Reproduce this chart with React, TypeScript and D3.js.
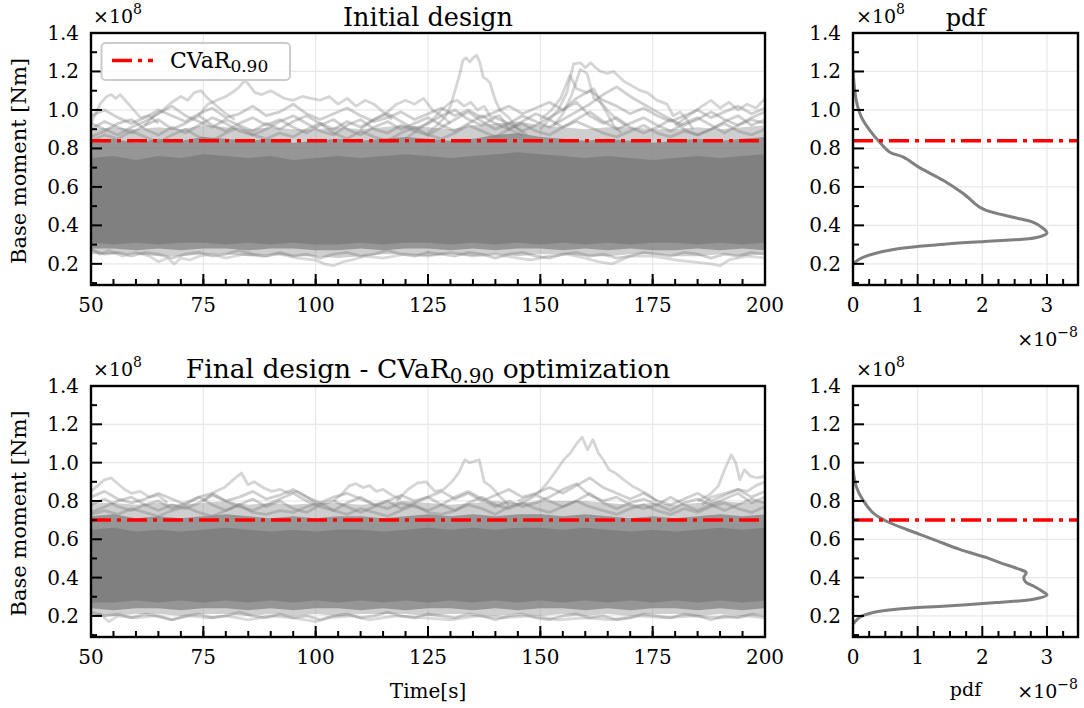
import React from "react";
import * as d3 from "d3";

// ---------- data (values in units of 1e8 Nm, time in s, pdf in 1e-8) ----------
const bandTime = [50, 55, 60, 65, 70, 75, 80, 85, 90, 95, 100, 105, 110, 115, 120, 125, 130, 135, 140, 145, 150, 155, 160, 165, 170, 175, 180, 185, 190, 195, 200];

// Initial design: envelopes of the dense bundle of trajectories
const initOuterHi = [0.9, 0.91, 0.9, 0.91, 0.9, 0.92, 0.91, 0.9, 0.91, 0.9, 0.9, 0.91, 0.9, 0.91, 0.92, 0.91, 0.9, 0.92, 0.93, 0.94, 0.92, 0.91, 0.9, 0.91, 0.91, 0.9, 0.9, 0.91, 0.9, 0.91, 0.92];
const initFringeHi = [0.84, 0.85, 0.83, 0.85, 0.84, 0.86, 0.85, 0.84, 0.85, 0.83, 0.84, 0.85, 0.84, 0.85, 0.86, 0.85, 0.84, 0.85, 0.87, 0.88, 0.86, 0.85, 0.84, 0.85, 0.84, 0.83, 0.84, 0.85, 0.84, 0.85, 0.86];
const initCoreHi = [0.75, 0.76, 0.74, 0.76, 0.75, 0.77, 0.76, 0.75, 0.76, 0.74, 0.75, 0.76, 0.75, 0.76, 0.77, 0.76, 0.75, 0.76, 0.77, 0.78, 0.77, 0.76, 0.75, 0.76, 0.75, 0.74, 0.75, 0.76, 0.75, 0.76, 0.77];
const initCoreLo = [0.31, 0.3, 0.31, 0.3, 0.31, 0.31, 0.3, 0.31, 0.3, 0.31, 0.3, 0.3, 0.31, 0.3, 0.31, 0.31, 0.3, 0.31, 0.3, 0.31, 0.3, 0.31, 0.3, 0.31, 0.3, 0.31, 0.31, 0.3, 0.31, 0.3, 0.31];
const initFringeLo = [0.28, 0.28, 0.27, 0.28, 0.27, 0.28, 0.28, 0.27, 0.28, 0.28, 0.27, 0.27, 0.28, 0.27, 0.28, 0.28, 0.27, 0.28, 0.27, 0.28, 0.28, 0.27, 0.28, 0.27, 0.28, 0.27, 0.27, 0.28, 0.27, 0.28, 0.27];
const initOuterLo = [0.25, 0.25, 0.25, 0.24, 0.24, 0.25, 0.25, 0.24, 0.25, 0.24, 0.24, 0.23, 0.24, 0.25, 0.25, 0.24, 0.25, 0.24, 0.25, 0.24, 0.25, 0.25, 0.24, 0.24, 0.25, 0.25, 0.24, 0.24, 0.25, 0.24, 0.25];

// Final design envelopes
const finOuterHi = [0.79, 0.79, 0.78, 0.79, 0.78, 0.79, 0.8, 0.78, 0.79, 0.78, 0.79, 0.79, 0.78, 0.79, 0.8, 0.79, 0.78, 0.79, 0.8, 0.79, 0.8, 0.8, 0.8, 0.79, 0.78, 0.79, 0.78, 0.79, 0.8, 0.79, 0.8];
const finFringeHi = [0.72, 0.73, 0.71, 0.72, 0.71, 0.72, 0.73, 0.72, 0.71, 0.72, 0.71, 0.72, 0.72, 0.71, 0.72, 0.73, 0.72, 0.73, 0.72, 0.73, 0.73, 0.72, 0.73, 0.72, 0.71, 0.72, 0.71, 0.72, 0.73, 0.72, 0.73];
const finCoreHi = [0.65, 0.66, 0.64, 0.65, 0.64, 0.65, 0.66, 0.65, 0.64, 0.65, 0.64, 0.65, 0.65, 0.64, 0.65, 0.66, 0.65, 0.66, 0.65, 0.66, 0.66, 0.65, 0.66, 0.65, 0.64, 0.65, 0.64, 0.65, 0.66, 0.65, 0.66];
const finCoreLo = [0.27, 0.27, 0.28, 0.27, 0.28, 0.27, 0.28, 0.27, 0.28, 0.27, 0.28, 0.27, 0.28, 0.27, 0.28, 0.27, 0.28, 0.27, 0.28, 0.27, 0.28, 0.27, 0.28, 0.27, 0.28, 0.27, 0.28, 0.27, 0.28, 0.27, 0.28];
const finFringeLo = [0.24, 0.23, 0.24, 0.24, 0.23, 0.24, 0.24, 0.23, 0.24, 0.23, 0.24, 0.24, 0.23, 0.24, 0.23, 0.24, 0.24, 0.23, 0.24, 0.23, 0.24, 0.24, 0.23, 0.24, 0.23, 0.24, 0.24, 0.23, 0.24, 0.23, 0.24];
const finOuterLo = [0.21, 0.2, 0.21, 0.21, 0.2, 0.21, 0.21, 0.2, 0.21, 0.2, 0.21, 0.2, 0.21, 0.21, 0.21, 0.2, 0.21, 0.21, 0.2, 0.21, 0.2, 0.21, 0.2, 0.21, 0.2, 0.21, 0.21, 0.2, 0.21, 0.2, 0.21];

// Time grid for the fringe trajectories (every 3 s)
const fringeTime = [50, 53, 56, 59, 62, 65, 68, 71, 74, 77, 80, 83, 86, 89, 92, 95, 98, 101, 104, 107, 110, 113, 116, 119, 122, 125, 128, 131, 134, 137, 140, 143, 146, 149, 152, 155, 158, 161, 164, 167, 170, 173, 176, 179, 182, 185, 188, 191, 194, 197, 200];
// Initial design fringe trajectories (upper side)
const initFringe1 = [0.9, 0.94, 0.91, 0.88, 0.92, 0.95, 0.9, 0.93, 0.97, 0.92, 0.89, 0.93, 0.96, 0.92, 0.95, 0.91, 0.88, 0.92, 0.95, 0.9, 0.87, 0.91, 0.94, 0.9, 0.93, 0.96, 0.92, 0.89, 0.93, 0.97, 0.93, 0.9, 0.94, 0.98, 0.95, 0.91, 0.95, 0.99, 0.94, 0.9, 0.93, 0.96, 0.92, 0.89, 0.93, 0.96, 0.92, 0.88, 0.92, 0.95, 0.93];
const initFringe2 = [0.86, 0.89, 0.93, 0.95, 0.9, 0.87, 0.91, 0.88, 0.92, 0.96, 0.93, 0.89, 0.87, 0.9, 0.94, 0.97, 0.93, 0.89, 0.87, 0.92, 0.95, 0.9, 0.88, 0.92, 0.89, 0.87, 0.91, 0.95, 0.99, 0.94, 0.9, 0.93, 0.89, 0.92, 0.96, 1.0, 1.04, 0.97, 0.93, 0.96, 0.91, 0.88, 0.91, 0.95, 0.9, 0.87, 0.9, 0.94, 0.97, 0.92, 0.95];
const initFringe3 = [0.97, 1.0, 0.96, 0.93, 0.96, 1.0, 0.97, 0.94, 0.98, 1.01, 0.96, 0.98, 1.02, 0.97, 0.99, 1.03, 0.98, 0.95, 0.98, 1.01, 0.97, 0.94, 0.96, 0.99, 0.95, 0.98, 1.01, 0.97, 1.0, 0.96, 0.99, 1.02, 0.98, 1.01, 1.04, 1.0, 1.06, 1.1, 1.05, 1.02, 0.98, 1.01, 0.97, 0.94, 0.97, 1.0, 0.96, 0.99, 1.02, 0.98, 1.01];
const initFringe4 = [0.84, 0.87, 0.85, 0.89, 0.86, 0.83, 0.87, 0.9, 0.86, 0.84, 0.88, 0.91, 0.87, 0.85, 0.88, 0.86, 0.9, 0.93, 0.88, 0.85, 0.89, 0.86, 0.84, 0.88, 0.91, 0.87, 0.85, 0.88, 0.92, 0.89, 0.86, 0.9, 0.93, 0.89, 0.87, 0.91, 0.94, 0.91, 0.88, 0.86, 0.89, 0.92, 0.88, 0.86, 0.89, 0.87, 0.9, 0.93, 0.89, 0.87, 0.9];
const initFringe5 = [0.93, 0.9, 0.87, 0.91, 0.94, 0.98, 1.02, 0.97, 0.94, 0.91, 0.95, 0.92, 0.89, 0.93, 0.9, 0.94, 0.97, 0.93, 0.9, 0.94, 0.91, 0.95, 0.98, 0.94, 0.9, 0.93, 0.97, 1.0, 0.95, 0.92, 0.96, 0.93, 0.97, 0.94, 0.91, 0.95, 0.99, 1.03, 1.08, 1.12, 1.07, 1.03, 0.99, 0.95, 0.92, 0.95, 0.99, 0.95, 0.92, 0.96, 0.99];
// Initial design fringe trajectories (lower side)
const initFringeLow1 = [0.27, 0.25, 0.26, 0.24, 0.26, 0.25, 0.23, 0.25, 0.26, 0.24, 0.25, 0.27, 0.25, 0.24, 0.26, 0.24, 0.25, 0.23, 0.25, 0.26, 0.24, 0.25, 0.27, 0.25, 0.24, 0.26, 0.25, 0.24, 0.26, 0.25, 0.23, 0.25, 0.26, 0.24, 0.23, 0.25, 0.26, 0.24, 0.25, 0.23, 0.24, 0.26, 0.25, 0.24, 0.26, 0.25, 0.23, 0.25, 0.24, 0.26, 0.25];

// Final design fringe trajectories (upper side)
const finFringe1 = [0.78, 0.81, 0.77, 0.75, 0.78, 0.8, 0.76, 0.79, 0.82, 0.78, 0.75, 0.78, 0.81, 0.77, 0.8, 0.76, 0.74, 0.78, 0.8, 0.77, 0.74, 0.77, 0.8, 0.76, 0.79, 0.82, 0.78, 0.75, 0.79, 0.82, 0.78, 0.76, 0.79, 0.83, 0.8, 0.77, 0.8, 0.84, 0.79, 0.76, 0.79, 0.81, 0.78, 0.75, 0.79, 0.81, 0.78, 0.75, 0.78, 0.81, 0.79];
const finFringe2 = [0.74, 0.77, 0.8, 0.82, 0.78, 0.75, 0.78, 0.76, 0.79, 0.83, 0.8, 0.77, 0.75, 0.78, 0.81, 0.84, 0.8, 0.77, 0.75, 0.79, 0.82, 0.78, 0.76, 0.79, 0.77, 0.75, 0.78, 0.82, 0.85, 0.81, 0.77, 0.8, 0.77, 0.79, 0.82, 0.86, 0.89, 0.83, 0.8, 0.82, 0.78, 0.76, 0.78, 0.82, 0.78, 0.75, 0.78, 0.81, 0.84, 0.79, 0.82];
const finFringe3 = [0.82, 0.85, 0.81, 0.79, 0.81, 0.84, 0.81, 0.78, 0.82, 0.84, 0.8, 0.82, 0.85, 0.81, 0.83, 0.86, 0.82, 0.79, 0.82, 0.84, 0.81, 0.78, 0.8, 0.83, 0.8, 0.82, 0.85, 0.81, 0.84, 0.8, 0.83, 0.86, 0.82, 0.84, 0.87, 0.84, 0.88, 0.92, 0.87, 0.84, 0.81, 0.84, 0.8, 0.78, 0.81, 0.84, 0.8, 0.83, 0.86, 0.82, 0.85];
const finFringe4 = [0.73, 0.75, 0.73, 0.76, 0.74, 0.72, 0.75, 0.77, 0.74, 0.72, 0.75, 0.78, 0.74, 0.73, 0.75, 0.74, 0.77, 0.79, 0.75, 0.73, 0.76, 0.74, 0.72, 0.75, 0.78, 0.74, 0.73, 0.75, 0.78, 0.76, 0.73, 0.77, 0.79, 0.76, 0.74, 0.77, 0.8, 0.77, 0.75, 0.73, 0.76, 0.78, 0.75, 0.73, 0.76, 0.74, 0.77, 0.79, 0.76, 0.74, 0.77];
const finFringeLow1 = [0.22, 0.2, 0.21, 0.19, 0.21, 0.2, 0.18, 0.2, 0.21, 0.19, 0.2, 0.22, 0.2, 0.19, 0.21, 0.19, 0.2, 0.18, 0.2, 0.21, 0.19, 0.2, 0.22, 0.2, 0.19, 0.21, 0.2, 0.19, 0.21, 0.2, 0.18, 0.2, 0.21, 0.19, 0.18, 0.2, 0.21, 0.19, 0.2, 0.18, 0.19, 0.21, 0.2, 0.19, 0.21, 0.2, 0.18, 0.2, 0.19, 0.21, 0.2];

// Individually visible outlier trajectories, initial design: [time, value]
const initTraceA: [number, number][] = [[125, 0.88], [127, 0.92], [129, 0.97], [130, 1.02], [131, 1.1], [132, 1.18], [132.8, 1.26], [133.5, 1.27], [134.3, 1.25], [135, 1.27], [135.8, 1.285], [136.5, 1.25], [137.3, 1.17], [138, 1.16], [138.8, 1.14], [140, 1.05], [141, 1.0], [143, 0.96], [145, 0.9], [147, 0.87]];
const initTraceB: [number, number][] = [[120, 0.85], [123, 0.9], [126, 0.95], [128, 1.0], [130, 1.04], [131.5, 1.05], [133, 1.02], [134.5, 1.04], [136, 1.0], [137.5, 1.02], [139, 0.96], [141, 0.97], [143, 0.9], [146, 0.87]];
const initTraceC: [number, number][] = [[150, 0.9], [152, 0.95], [154, 1.0], [155.9, 1.09], [157.4, 1.24], [158.9, 1.245], [160, 1.22], [161.2, 1.245], [162.3, 1.22], [163.4, 1.2], [164.9, 1.19], [166.3, 1.2], [168.5, 1.15], [170.8, 1.12], [172.3, 1.1], [173.8, 1.09], [176, 1.05], [178.2, 1.03], [179.6, 0.97], [181.1, 0.99], [182.6, 0.95], [184, 0.9]];
const initTraceD: [number, number][] = [[153, 0.92], [155, 0.98], [157, 1.08], [158.9, 1.21], [160.4, 1.19], [161.9, 1.06], [163.4, 1.04], [164.9, 0.98], [166.3, 0.92], [168, 0.88]];
const initTraceE: [number, number][] = [[150, 0.95], [152.5, 1.0], [154.5, 1.06], [156.6, 1.18], [158.1, 1.11], [160.4, 1.09], [161.9, 1.11], [163.4, 1.04], [164.9, 1.0], [167, 0.95], [169, 0.92]];
const initTraceF: [number, number][] = [[50, 0.93], [51, 0.98], [52, 1.03], [53.5, 1.07], [54.5, 1.08], [55.5, 1.06], [56.5, 1.08], [58, 1.04], [59.5, 1.0], [61, 0.96], [63, 0.97], [65, 0.93]];
const initTraceG: [number, number][] = [[62, 0.92], [64, 0.97], [66, 1.0], [68, 1.04], [70, 1.07], [71.5, 1.05], [73, 1.09], [74.5, 1.1], [76, 1.06], [78, 1.02], [80, 0.98], [82, 0.95]];
const initTraceH: [number, number][] = [[74, 0.97], [76, 1.03], [78, 1.05], [80, 1.07], [82, 1.1], [83, 1.12], [84.3, 1.155], [85.5, 1.12], [86.5, 1.09], [88, 1.08], [90, 1.1], [91.5, 1.08], [93, 1.06], [95, 1.05], [97, 1.07], [99, 1.06], [101, 1.05], [103, 1.07], [105, 1.03], [107, 1.06], [109, 1.02], [111, 1.05], [113, 1.03], [115, 0.99], [117, 0.95]];
const initTraceI: [number, number][] = [[180, 0.92], [183, 0.97], [186, 1.02], [188, 1.05], [190, 1.01], [192, 1.04], [194, 1.0], [196, 1.03], [198, 1.01], [200, 1.06]];
const initTraceJ: [number, number][] = [[110, 0.9], [113, 0.95], [116, 0.99], [118, 1.03], [120, 1.05], [122, 1.03], [124, 1.06], [126, 1.0], [128, 0.97], [130, 0.93]];
const initTraceL: [number, number][] = [[50, 0.28], [52, 0.25], [54, 0.27], [57, 0.24], [60, 0.26], [63, 0.24], [65, 0.21], [67, 0.23], [68.5, 0.2], [70, 0.23], [72, 0.22], [74, 0.24], [77, 0.25], [80, 0.23], [84, 0.25], [88, 0.24], [92, 0.25], [96, 0.23], [100, 0.22], [102, 0.2], [104, 0.19], [106, 0.21], [108, 0.22], [111, 0.24], [115, 0.23], [120, 0.25], [125, 0.24], [130, 0.26], [135, 0.24], [140, 0.25], [145, 0.23], [148, 0.22], [152, 0.24], [156, 0.25], [160, 0.23], [163, 0.21], [166, 0.2], [170, 0.24], [175, 0.24], [180, 0.22], [184, 0.21], [188, 0.2], [190, 0.19], [192, 0.22], [196, 0.24], [200, 0.23]];

// Final design outlier trajectories
const finTraceM: [number, number][] = [[145, 0.8], [149.5, 0.84], [151.4, 0.89], [153.3, 0.95], [155.2, 1.015], [156.7, 1.05], [158.1, 1.1], [159.3, 1.133], [160.5, 1.067], [161.7, 1.12], [162.9, 1.05], [164, 1.015], [165.3, 0.963], [166.7, 0.946], [168.6, 0.91], [170.5, 0.877], [173.4, 0.842], [176, 0.8]];
const finTraceN: [number, number][] = [[118, 0.8], [120.5, 0.86], [122.7, 0.894], [124.6, 0.9], [126.5, 0.85], [128.4, 0.859], [130.3, 0.9], [131.8, 0.946], [133.2, 1.015], [134.2, 1.0], [135.3, 1.007], [136.4, 1.015], [137.5, 0.9], [139, 0.876], [140.9, 0.825], [143, 0.78]];
const finTraceO: [number, number][] = [[185, 0.8], [187.5, 0.83], [189.6, 0.877], [191, 0.963], [192.5, 1.041], [193.5, 0.998], [194.4, 0.911], [195.4, 0.963], [196.8, 0.929], [198.3, 0.92], [200, 0.929]];
const finTraceO2: [number, number][] = [[186, 0.78], [188, 0.82], [191, 0.84], [194, 0.86], [196, 0.85], [198, 0.88], [200, 0.9]];
const finTraceP: [number, number][] = [[50, 0.85], [51.5, 0.88], [53, 0.91], [54.5, 0.92], [56, 0.89], [57.5, 0.86], [59, 0.84], [61, 0.85], [63, 0.82], [65, 0.83], [67, 0.79]];
const finTraceQ: [number, number][] = [[75, 0.8], [77.7, 0.85], [79.7, 0.87], [81.6, 0.91], [83.5, 0.946], [84.9, 0.885], [86.3, 0.9], [88.3, 0.87], [90.2, 0.85], [92.1, 0.86], [94, 0.842], [95.9, 0.85], [97.8, 0.825], [100, 0.79]];
const finTraceR: [number, number][] = [[104, 0.8], [106, 0.84], [107.5, 0.88], [109, 0.89], [110.5, 0.87], [112, 0.88], [113.5, 0.85], [115, 0.86], [117, 0.83], [119, 0.81]];
const finTraceS: [number, number][] = [[50, 0.2], [52, 0.21], [54, 0.17], [56, 0.2], [60, 0.19], [64, 0.2], [68, 0.18], [72, 0.2], [76, 0.19], [80, 0.2], [85, 0.18], [90, 0.2], [95, 0.19], [100, 0.17], [103, 0.19], [108, 0.2], [112, 0.18], [118, 0.2], [124, 0.19], [130, 0.18], [136, 0.2], [142, 0.19], [148, 0.2], [154, 0.18], [160, 0.19], [166, 0.18], [172, 0.2], [178, 0.19], [184, 0.2], [190, 0.19], [196, 0.2], [200, 0.19]];

// CVaR levels
const cvarInit = 0.84;
const cvarFinal = 0.7;

// pdf curves: base moment value (1e8) and density (1e-8)
const pdfInitY = [1.2, 1.05, 0.963, 0.894, 0.833, 0.78, 0.755, 0.7, 0.633, 0.564, 0.494, 0.477, 0.442, 0.416, 0.39, 0.36, 0.337, 0.32, 0.303, 0.277, 0.251, 0.225, 0.198];
const pdfInitX = [0.0, 0.05, 0.13, 0.26, 0.41, 0.57, 0.78, 1.03, 1.4, 1.71, 1.96, 2.07, 2.48, 2.79, 2.92, 3.0, 2.84, 2.22, 1.45, 0.67, 0.31, 0.1, 0.0];
const pdfFinY = [0.963, 0.876, 0.807, 0.738, 0.694, 0.651, 0.6, 0.547, 0.504, 0.478, 0.443, 0.426, 0.4, 0.377, 0.356, 0.33, 0.309, 0.287, 0.27, 0.252, 0.235, 0.218, 0.192, 0.157];
const pdfFinX = [0.0, 0.05, 0.15, 0.31, 0.52, 0.83, 1.24, 1.65, 2.07, 2.27, 2.58, 2.68, 2.64, 2.67, 2.79, 2.92, 3.0, 2.79, 2.22, 1.45, 0.67, 0.31, 0.1, 0.0];

// ticks
const timeTicks = [50, 75, 100, 125, 150, 175, 200];
const timeMinor = d3.range(50, 201, 5);
const yTicks = [0.2, 0.4, 0.6, 0.8, 1.0, 1.2, 1.4];
const yMinor = [0.1, 0.3, 0.5, 0.7, 0.9, 1.1, 1.3];
const pdfTicks = [0, 1, 2, 3];
const pdfMinor = [0.25, 0.5, 0.75, 1.25, 1.5, 1.75, 2.25, 2.5, 2.75, 3.25];

// ---------- layout ----------
const FONT = "DejaVu Serif";
const LX0 = 91, LX1 = 765, RX0 = 853, RX1 = 1078;
const ROWS = [{ y0: 33, y1: 285 }, { y0: 386, y1: 637 }];
const GRAY = "#808080";
const DASH = "20 6 4 6";
const TICKFS = 20;

const xTime = d3.scaleLinear().domain([50, 200]).range([LX0, LX1]);
const xPdf = d3.scaleLinear().domain([0, 3.48]).range([RX0, RX1]);

function Ticks({ orient, scale, major, minor, pos, fmt, labelPos }: any) {
  const items: any[] = [];
  const isX = orient === "x";
  major.forEach((v: number, i: number) => {
    const p = scale(v);
    items.push(isX
      ? <line key={"M" + i} x1={p} x2={p} y1={pos} y2={pos - 11} stroke="#000" strokeWidth={2} />
      : <line key={"M" + i} x1={pos} x2={pos + 11} y1={p} y2={p} stroke="#000" strokeWidth={2} />);
    items.push(isX
      ? <text key={"L" + i} x={p} y={labelPos} textAnchor="middle" fontSize={TICKFS} fontFamily={FONT}>{fmt(v)}</text>
      : <text key={"L" + i} x={labelPos} y={p + 7} textAnchor="end" fontSize={TICKFS} fontFamily={FONT}>{fmt(v)}</text>);
  });
  minor.forEach((v: number, i: number) => {
    const p = scale(v);
    items.push(isX
      ? <line key={"m" + i} x1={p} x2={p} y1={pos} y2={pos - 6} stroke="#000" strokeWidth={2} />
      : <line key={"m" + i} x1={pos} x2={pos + 6} y1={p} y2={p} stroke="#000" strokeWidth={2} />);
  });
  return <g>{items}</g>;
}

function Sci({ x, y, exp, anchor }: any) {
  return (
    <text x={x} y={y} fontSize={19} fontFamily={FONT} textAnchor={anchor || "start"}>
      ×10<tspan dy={-9} fontSize={14}>{exp}</tspan>
    </text>
  );
}

function LeftPanel({ row, bands, fringes, traces, lowTraces, cvar, showLegend, xlabel, title }: any) {
  const { y0, y1 } = ROWS[row];
  const y = d3.scaleLinear().domain([0.09, 1.4]).range([y1, y0]);
  const area = (lo: number[], hi: number[]) =>
    d3.area<number>().x((_, i) => xTime(bandTime[i])).y0((_, i) => y(lo[i])).y1((_, i) => y(hi[i]))(bandTime) || "";
  const line = d3.line<[number, number]>().x((d) => xTime(d[0])).y((d) => y(d[1]));
  const fline = (vals: number[]) => line(fringeTime.map((t, i) => [t, vals[i]] as [number, number])) || "";
  const clipId = "clipL" + row;
  return (
    <g>
      <defs>
        <clipPath id={clipId}><rect x={LX0} y={y0} width={LX1 - LX0} height={y1 - y0} /></clipPath>
      </defs>
      {timeTicks.map((t) => <line key={"gx" + t} x1={xTime(t)} x2={xTime(t)} y1={y0} y2={y1} stroke="#e8e8e8" strokeWidth={1.2} />)}
      {yTicks.map((t) => <line key={"gy" + t} x1={LX0} x2={LX1} y1={y(t)} y2={y(t)} stroke="#e8e8e8" strokeWidth={1.2} />)}
      <g clipPath={`url(#${clipId})`}>
        <path d={area(bands.outerLo, bands.outerHi)} fill={GRAY} fillOpacity={0.38} />
        <path d={area(bands.fringeLo, bands.fringeHi)} fill={GRAY} fillOpacity={0.72} />
        <path d={area(bands.coreLo, bands.coreHi)} fill={GRAY} fillOpacity={1} />
        {fringes.map((f: number[], i: number) => (
          <path key={"f" + i} d={fline(f)} fill="none" stroke={GRAY} strokeOpacity={0.38} strokeWidth={2.8} strokeLinejoin="round" />
        ))}
        {traces.map((tr: any, i: number) => (
          <path key={"t" + i} d={line(tr) || ""} fill="none" stroke={GRAY} strokeOpacity={0.33} strokeWidth={2.8} strokeLinejoin="round" />
        ))}
        {lowTraces.map((tr: any, i: number) => (
          <path key={"lt" + i} d={line(tr) || ""} fill="none" stroke={GRAY} strokeOpacity={0.3} strokeWidth={2.8} strokeLinejoin="round" />
        ))}
        <line x1={LX0} x2={LX1} y1={y(cvar)} y2={y(cvar)} stroke="#ff0000" strokeWidth={3.5} strokeDasharray={DASH} />
      </g>
      <rect x={LX0} y={y0} width={LX1 - LX0} height={y1 - y0} fill="none" stroke="#000" strokeWidth={2.4} />
      <Ticks orient="x" scale={xTime} major={timeTicks} minor={timeMinor} pos={y1} fmt={(v: number) => String(v)} labelPos={y1 + 27} />
      <Ticks orient="y" scale={y} major={yTicks} minor={yMinor} pos={LX0} fmt={(v: number) => v.toFixed(1)} labelPos={79} />
      <Sci x={93} y={y0 - 10} exp="8" />
      <text transform={`translate(26,${(y0 + y1) / 2 + 2}) rotate(-90)`} textAnchor="middle" fontSize={21} fontFamily={FONT}>Base moment [Nm]</text>
      {title}
      {xlabel && <text x={(LX0 + LX1) / 2} y={y1 + 61} textAnchor="middle" fontSize={20} fontFamily={FONT}>Time[s]</text>}
      {showLegend && (
        <g>
          <rect x={101.5} y={43} width={188.5} height={37} rx={4} fill="#fff" fillOpacity={0.8} stroke="#cccccc" strokeWidth={2} />
          <line x1={112} x2={153} y1={60.5} y2={60.5} stroke="#ff0000" strokeWidth={3.5} strokeDasharray={DASH} />
          <text x={170} y={68} fontSize={22} fontFamily={FONT}>CVaR<tspan fontSize={17} dy={4}>0.90</tspan></text>
        </g>
      )}
    </g>
  );
}

function RightPanel({ row, py, px, cvar, title, xlabel }: any) {
  const { y0, y1 } = ROWS[row];
  const y = d3.scaleLinear().domain([0.09, 1.4]).range([y1, y0]);
  const pts = py.map((v: number, i: number) => [px[i], v] as [number, number]);
  const line = d3.line<[number, number]>().x((d) => xPdf(d[0])).y((d) => y(d[1])).curve(d3.curveCatmullRom.alpha(0.5));
  const clipId = "clipR" + row;
  return (
    <g>
      <defs>
        <clipPath id={clipId}><rect x={RX0} y={y0} width={RX1 - RX0} height={y1 - y0} /></clipPath>
      </defs>
      {pdfTicks.map((t) => <line key={"gx" + t} x1={xPdf(t)} x2={xPdf(t)} y1={y0} y2={y1} stroke="#e8e8e8" strokeWidth={1.2} />)}
      {yTicks.map((t) => <line key={"gy" + t} x1={RX0} x2={RX1} y1={y(t)} y2={y(t)} stroke="#e8e8e8" strokeWidth={1.2} />)}
      <g clipPath={`url(#${clipId})`}>
        <path d={line(pts) || ""} fill="none" stroke={GRAY} strokeWidth={3} />
        <line x1={RX0} x2={RX1} y1={y(cvar)} y2={y(cvar)} stroke="#ff0000" strokeWidth={3.5} strokeDasharray={DASH} />
      </g>
      <rect x={RX0} y={y0} width={RX1 - RX0} height={y1 - y0} fill="none" stroke="#000" strokeWidth={2.4} />
      <Ticks orient="x" scale={xPdf} major={pdfTicks} minor={pdfMinor} pos={y1} fmt={(v: number) => String(v)} labelPos={y1 + 27} />
      <Ticks orient="y" scale={y} major={yTicks} minor={yMinor} pos={RX0} fmt={(v: number) => v.toFixed(1)} labelPos={841} />
      <Sci x={856} y={y0 - 10} exp="8" />
      {title && <text x={(RX0 + RX1) / 2} y={y0 - 7} textAnchor="middle" fontSize={24} fontFamily={FONT}>pdf</text>}
      {xlabel && <text x={(RX0 + RX1) / 2} y={y1 + 59} textAnchor="middle" fontSize={19} fontFamily={FONT}>pdf</text>}
      <Sci x={RX1} y={y1 + 61} exp="−8" anchor="end" />
    </g>
  );
}

export default function App() {
  const initBands = { outerHi: initOuterHi, fringeHi: initFringeHi, coreHi: initCoreHi, coreLo: initCoreLo, fringeLo: initFringeLo, outerLo: initOuterLo };
  const finBands = { outerHi: finOuterHi, fringeHi: finFringeHi, coreHi: finCoreHi, coreLo: finCoreLo, fringeLo: finFringeLo, outerLo: finOuterLo };
  return (
    <svg width={1084} height={708} style={{ position: "absolute", left: 0, top: 0, background: "#fff" }}>
      <rect x={0} y={0} width={1084} height={708} fill="#fff" />
      <LeftPanel row={0} bands={initBands}
        fringes={[initFringe4, initFringe1, initFringe2, initFringe5, initFringe3, initFringeLow1]}
        traces={[initTraceF, initTraceG, initTraceH, initTraceJ, initTraceB, initTraceA, initTraceE, initTraceD, initTraceC, initTraceI]}
        lowTraces={[initTraceL]} cvar={cvarInit} showLegend={true} xlabel={false}
        title={<text x={(LX0 + LX1) / 2} y={26} textAnchor="middle" fontSize={25.5} fontFamily={FONT}>Initial design</text>} />
      <LeftPanel row={1} bands={finBands}
        fringes={[finFringe4, finFringe1, finFringe2, finFringe3, finFringeLow1]}
        traces={[finTraceP, finTraceQ, finTraceR, finTraceN, finTraceM, finTraceO2, finTraceO]}
        lowTraces={[finTraceS]} cvar={cvarFinal} showLegend={false} xlabel={true}
        title={<text x={(LX0 + LX1) / 2} y={378} textAnchor="middle" fontSize={26.5} fontFamily={FONT}>Final design - CVaR<tspan fontSize={20} dy={5}>0.90</tspan><tspan dy={-5}> optimization</tspan></text>} />
      <RightPanel row={0} py={pdfInitY} px={pdfInitX} cvar={cvarInit} title={true} xlabel={false} />
      <RightPanel row={1} py={pdfFinY} px={pdfFinX} cvar={cvarFinal} title={false} xlabel={true} />
    </svg>
  );
}
